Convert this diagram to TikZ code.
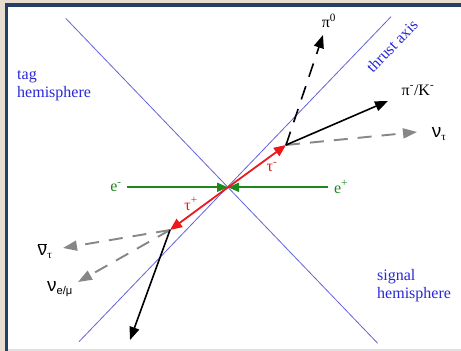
\documentclass[tikz,border=0pt]{standalone}
\usepackage{fontspec}
\setmainfont{Liberation Serif}
\newfontfamily\sansf{Liberation Sans}
\newcommand{\bignu}{{\sansf\fontsize{19}{20}\selectfont ν}}
\usetikzlibrary{arrows.meta}
\definecolor{bgbeige}{RGB}{232,222,208}
\definecolor{framebl}{RGB}{36,62,102}
\definecolor{axisbl}{RGB}{100,100,220}
\definecolor{txtbl}{RGB}{40,40,215}
\definecolor{egreen}{RGB}{30,135,30}
\definecolor{taured}{RGB}{235,25,25}
\definecolor{nugrey}{RGB}{135,135,135}
\tikzset{
  axisline/.style={draw=axisbl, line width=0.8pt},
  beamarrow/.style={draw=egreen, line width=1.8pt, -{Triangle[length=11pt,width=9pt]}},
  tauarrow/.style={draw=taured, line width=1.8pt, -{Triangle[length=12pt,width=10pt]}},
  hadarrow/.style={draw=black, line width=1.6pt, -{Triangle[length=13pt,width=10pt]}},
  pizarrow/.style={draw=black, line width=1.6pt, dash pattern=on 14pt off 10pt, -{Triangle[length=13pt,width=10pt]}},
  nuarrow/.style={draw=nugrey, line width=1.9pt, dash pattern=on 14pt off 10pt, -{Triangle[length=14pt,width=10pt]}},
  lbl/.style={inner sep=0pt, font=\fontsize{16}{18}\selectfont},
  bluelbl/.style={lbl, text=txtbl, align=left},
}
\begin{document}
\begin{tikzpicture}[x=1pt,y=-1pt]
\useasboundingbox (0,0) rectangle (461,351);
% background frame
\fill[bgbeige] (0,0) rectangle (461,351);
\fill[framebl] (5,3) rectangle (461,351);
\fill[white] (8,7) rectangle (461,349);
\fill[black!12] (8,349) rectangle (461,350.5);
% axes
\coordinate (A1s) at (65.7,18.3);
\coordinate (A1e) at (377.7,343.3);
\coordinate (A2s) at (79,341.7);
\coordinate (A2e) at (391,16.7);
\draw[axisline] (A1s) -- (A1e);
\draw[axisline] (A2s) -- (A2e);
% key points
\coordinate (C) at (228,187.3);
\coordinate (T1) at (286,145);
\coordinate (T2) at (170,230);
\coordinate (Eml) at (127,187.3);
\coordinate (Epr) at (328,187.3);
\coordinate (PiK) at (388,101);
\coordinate (Pi0) at (323,35);
\coordinate (NuT) at (417,132);
\coordinate (Had) at (130,340);
\coordinate (NuTb) at (63,248);
\coordinate (NuL) at (78,282);
% beams
\draw[beamarrow] (Eml) -- (C);
\draw[beamarrow] (Epr) -- (C);
% taus
\draw[tauarrow] (C) -- (T1);
\draw[tauarrow] (C) -- (T2);
% decays
\draw[nuarrow] (T1) -- (NuT);
\draw[hadarrow] (T1) -- (PiK);
\draw[pizarrow] (T1) -- (Pi0);
\draw[nuarrow] (T2) -- (NuTb);
\draw[nuarrow] (T2) -- (NuL);
\draw[hadarrow] (T2) -- (Had);
% labels
\node[lbl, text=egreen] (lem) at (116,187) {e\textsuperscript{-}};
\node[lbl, text=egreen] (lep) at (341,187) {e\textsuperscript{+}};
\node[lbl, text=taured] (ltm) at (272,167) {τ\textsuperscript{-}};
\node[lbl, text=taured] (ltp) at (191,204) {τ\textsuperscript{+}};
\node[lbl] (lpik) at (418,90) {π\textsuperscript{-}/K\textsuperscript{-}};
\node[lbl] (lpi0) at (329,21) {π\textsuperscript{0}};
\node[lbl] (lnut) at (439,134) {\bignu\textsubscript{τ}};
\node[lbl] (lnutb) at (45,251) {$\overline{\hbox{\bignu}}$\textsubscript{τ}};
\node[lbl] (lnul) at (60,289) {\bignu\textsubscript{\sansf e/μ}};
\node[bluelbl, anchor=west] (ltag) at (17,86) {tag\\hemisphere};
\node[bluelbl, anchor=west] (lsig) at (377,286) {signal\\hemisphere};
\node[lbl, text=txtbl, rotate=46] (lthr) at (392,46) {thrust axis};
\end{tikzpicture}
\end{document}
